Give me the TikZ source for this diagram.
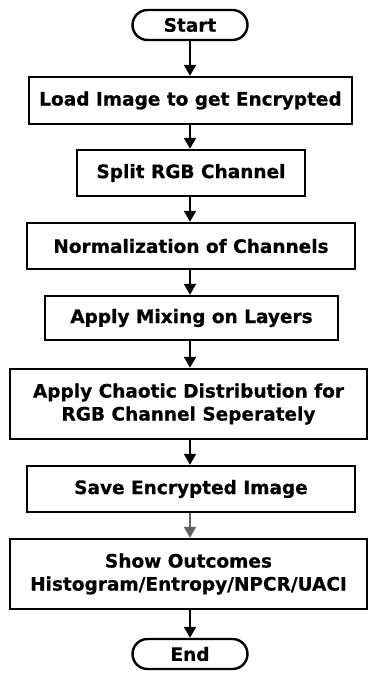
\documentclass[tikz,border=0pt]{standalone}
\usepackage{fontspec}
\setmainfont{DejaVu Sans}[BoldFeatures={FakeBold=0.6}]
\usetikzlibrary{arrows.meta}
\begin{document}
\begin{tikzpicture}[x=1pt,y=-1pt,
  font=\fontsize{18.5}{23}\selectfont\bfseries,
  line width=2.4pt,
  procbox/.style={draw, rectangle, align=center, inner sep=0pt},
  termbox/.style={draw, rectangle, rounded corners=15pt, inner sep=0pt,
    minimum width=115pt, minimum height=30pt},
  flow/.style={line width=2.2pt, -{Triangle[width=12pt,length=11pt]}},
  greyflow/.style={flow, draw=black!62, fill=black!62}]
\useasboundingbox (0,0) rectangle (368,676);

\node[termbox] (start) at (190,25) {Start};
\node[procbox, minimum width=323pt, minimum height=47pt] (load) at (190.5,100.5) {Load Image to get Encrypted};
\node[procbox, minimum width=228pt, minimum height=46pt] (split) at (191,173) {Split RGB Channel};
\node[procbox, minimum width=328pt, minimum height=46pt] (norm) at (191,246) {Normalization of Channels};
\node[procbox, minimum width=293pt, minimum height=44pt] (mix) at (191.5,318) {Apply Mixing on Layers};
\node[procbox, minimum width=357pt, minimum height=70pt] (chaos) at (188.5,404)
  {Apply Chaotic Distribution for\\RGB Channel Seperately};
\node[procbox, minimum width=328pt, minimum height=46pt] (save) at (191,489) {Save Encrypted Image};
\node[procbox, minimum width=357pt, minimum height=70pt] (show) at (188.5,574)
  {Show Outcomes\\Histogram/Entropy/NPCR/UACI};
\node[termbox] (end) at (190,654) {End};

\draw[flow] (start.south) -- (start.south |- load.north);
\draw[flow] (load.south -| start.south) -- (start.south |- split.north);
\draw[flow] (split.south -| start.south) -- (start.south |- norm.north);
\draw[flow] (norm.south -| start.south) -- (start.south |- mix.north);
\draw[flow] (mix.south -| start.south) -- (start.south |- chaos.north);
\draw[flow] (chaos.south -| start.south) -- (start.south |- save.north);
\draw[greyflow] (save.south -| start.south) -- (start.south |- show.north);
\draw[flow] (show.south -| start.south) -- (end.north);
\end{tikzpicture}
\end{document}
